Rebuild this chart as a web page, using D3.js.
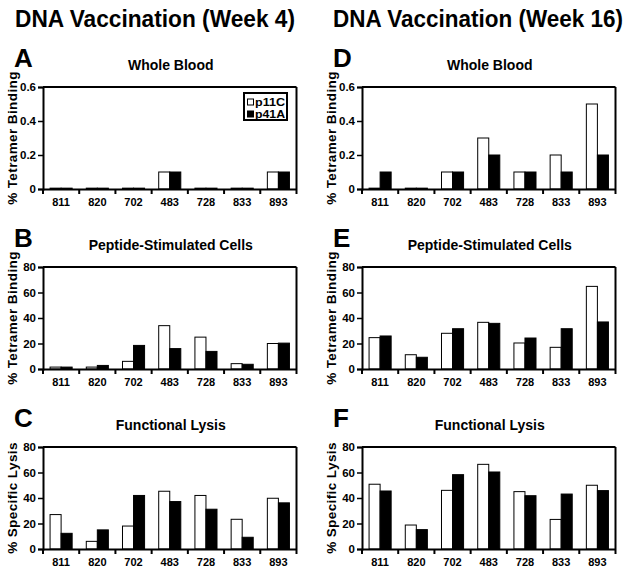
<!DOCTYPE html>
<html><head><meta charset="utf-8">
<script src="https://cdn.jsdelivr.net/npm/d3@7"></script>
<style>body{margin:0;background:#fff}svg{display:block}text{font-family:"Liberation Sans",Arial,sans-serif;font-weight:bold;fill:#000}</style>
</head><body>
<svg id="c" width="633" height="574"></svg>
<script>
const categories = ["811","820","702","483","728","833","893"];
const series = ["p11C","p41A"];
const columnTitles = ["DNA Vaccination (Week 4)","DNA Vaccination (Week 16)"];
const panelLetters = ["A","B","C","D","E","F"];
const panelTitles = ["Whole Blood","Peptide-Stimulated Cells","Functional Lysis"];
const yLabels = ["% Tetramer Binding","% Tetramer Binding","% Specific Lysis"];
const tickBlood = [0,0.2,0.4,0.6];
const tickPct = [0,20,40,60,80];

const wk4_blood_p11C = [0.005,0.005,0.005,0.1,0.005,0.005,0.1];
const wk4_blood_p41A = [0.005,0.005,0.005,0.1,0.005,0.005,0.1];
const wk4_pep_p11C = [1.5,1.5,6,34,25,4.2,20];
const wk4_pep_p41A = [1.5,2.8,18.5,16,13.8,3.7,20.3];
const wk4_lysis_p11C = [27,6,18,45.3,42,23.3,39.8];
const wk4_lysis_p41A = [12.3,15,42,37.2,31.2,9.2,36.2];
const wk16_blood_p11C = [0.005,0.005,0.1,0.3,0.1,0.2,0.5];
const wk16_blood_p41A = [0.1,0.005,0.1,0.2,0.1,0.1,0.2];
const wk16_pep_p11C = [24.6,11.2,28,36.6,20.4,17,64.8];
const wk16_pep_p41A = [25.9,9.2,31.6,35.8,24.3,31.6,36.9];
const wk16_lysis_p11C = [50.8,18.8,46,66.4,45,23.2,50];
const wk16_lysis_p41A = [45.5,15.2,58.3,60.4,41.8,43.1,45.8];

const panels = [
  {col:0,row:0,a:wk4_blood_p11C,b:wk4_blood_p41A,max:0.6,ticks:tickBlood,legend:true},
  {col:0,row:1,a:wk4_pep_p11C,b:wk4_pep_p41A,max:80,ticks:tickPct},
  {col:0,row:2,a:wk4_lysis_p11C,b:wk4_lysis_p41A,max:80,ticks:tickPct},
  {col:1,row:0,a:wk16_blood_p11C,b:wk16_blood_p41A,max:0.6,ticks:tickBlood},
  {col:1,row:1,a:wk16_pep_p11C,b:wk16_pep_p41A,max:80,ticks:tickPct},
  {col:1,row:2,a:wk16_lysis_p11C,b:wk16_lysis_p41A,max:80,ticks:tickPct}
];

const svg = d3.select("#c");
const colLeft = [43,362], colW = 253.5;
const rowTop = [87,267,447], plotH = 102;
const titleX = [15,333], titleW = [280,290];
const FF = '"Liberation Sans", Arial, sans-serif';

columnTitles.forEach((t,i)=>{
  svg.append("text").attr("x",titleX[i]).attr("y",27).attr("font-size",23)
    .attr("textLength",titleW[i]).attr("lengthAdjust","spacingAndGlyphs").text(t);
});

panels.forEach((p,pi)=>{
  const L = colLeft[p.col], T = rowTop[p.row];
  const g = svg.append("g").attr("transform",`translate(${L},${T})`);
  const x = d3.scaleBand().domain(categories).range([0,colW]).padding(0);
  const x1 = d3.scaleBand().domain(series).range([0,x.step()]).paddingInner(0).paddingOuter(0.64);
  const y = d3.scaleLinear().domain([0,p.max]).range([plotH,0]);

  svg.append("text").attr("x",L-29).attr("y",T-20).attr("font-size",26).text(panelLetters[pi]);
  svg.append("text").attr("x",L+colW/2+1).attr("y",T-17).attr("font-size",14).attr("text-anchor","middle").text(panelTitles[p.row]);

  const data = categories.map((c,i)=>({c, vals:[p.a[i],p.b[i]]}));
  const grp = g.selectAll("g.cat").data(data).join("g").attr("transform",d=>`translate(${x(d.c)},0)`);
  grp.selectAll("rect").data(d=>d.vals.map((v,k)=>({s:series[k],v}))).join("rect")
    .attr("x",d=>x1(d.s)).attr("width",x1.bandwidth())
    .attr("y",d=>y(d.v)).attr("height",d=>plotH-y(d.v))
    .attr("fill",d=>d.s==="p11C"?"#fff":"#000")
    .attr("stroke","#000").attr("stroke-width",1);

  g.append("line").attr("x1",0).attr("x2",colW).attr("y1",0).attr("y2",0).attr("stroke","#000").attr("stroke-width",2);
  g.append("line").attr("x1",colW).attr("x2",colW).attr("y1",0).attr("y2",plotH).attr("stroke","#000").attr("stroke-width",2);

  const fmt = p.max<1 ? (d=>d===0?"0":d3.format(".1f")(d)) : d3.format("d");
  const ya = g.append("g").call(d3.axisLeft(y).tickValues(p.ticks).tickSize(5).tickPadding(2).tickFormat(fmt));
  ya.attr("font-family",FF).attr("font-size",11.5);
  ya.select(".domain").attr("stroke-width",2);
  ya.selectAll(".tick line").attr("stroke-width",1.5);
  ya.selectAll("text").attr("font-weight","bold");

  const xa = g.append("g").attr("transform",`translate(0,${plotH})`)
    .call(d3.axisBottom(x).tickSize(0).tickPadding(9));
  xa.attr("font-family",FF).attr("font-size",11);
  xa.select(".domain").attr("stroke-width",2);
  xa.selectAll("text").attr("font-weight","bold");
  const bounds = d3.range(categories.length+1).map(i=>i*x.step());
  xa.selectAll("line.bt").data(bounds).join("line").attr("class","bt")
    .attr("x1",d=>d).attr("x2",d=>d).attr("y1",0).attr("y2",5).attr("stroke","#000").attr("stroke-width",2);

  svg.append("text").attr("transform",`translate(${L-26},${T+plotH/2}) rotate(-90)`)
    .attr("font-size",13.5).attr("text-anchor","middle").attr("letter-spacing",0.4).text(yLabels[p.row]);

  if(p.legend){
    const lg = g.append("g").attr("transform",`translate(${201},${6})`);
    lg.append("rect").attr("x",0).attr("y",0).attr("width",43).attr("height",27).attr("fill","#fff").attr("stroke","#000").attr("stroke-width",2);
    series.forEach((s,k)=>{
      lg.append("rect").attr("x",3.5).attr("y",6+k*12).attr("width",6).attr("height",6)
        .attr("fill",k===0?"#fff":"#000").attr("stroke","#000").attr("stroke-width",1);
      lg.append("text").attr("x",11).attr("y",12.5+k*12).attr("font-size",11)
        .attr("textLength",30).attr("lengthAdjust","spacingAndGlyphs").text(s);
    });
  }
});
</script>
</body></html>
